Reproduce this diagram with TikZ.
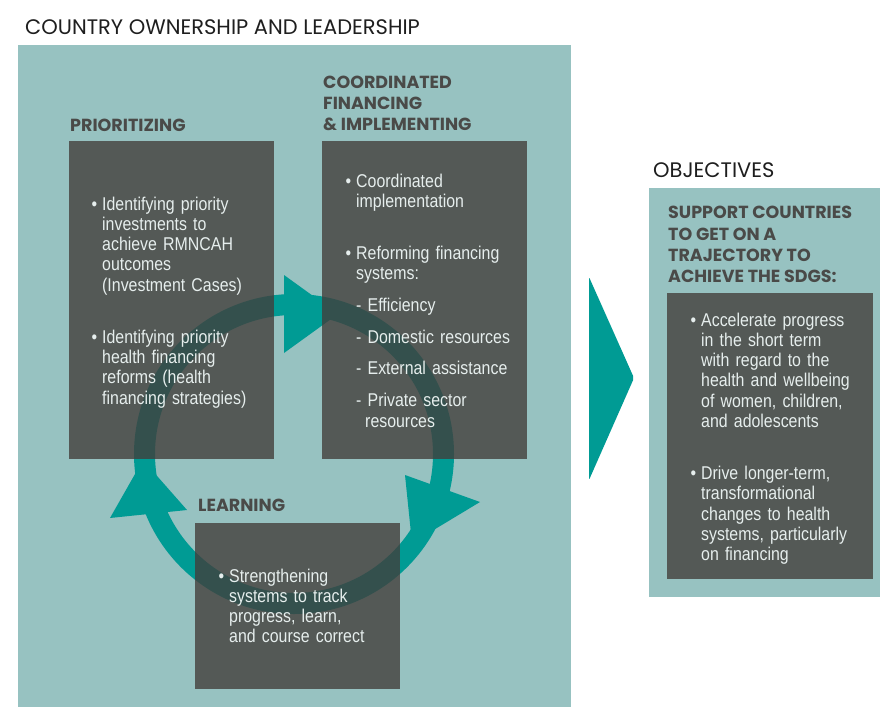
\documentclass[tikz,border=0pt]{standalone}
\usepackage{fontspec}
\setmainfont{Liberation Sans}
\newfontfamily\headfont{Poppins}
\newfontfamily\bodyfont[FakeStretch=0.86]{Liberation Sans}
\usetikzlibrary{positioning}

\definecolor{bgteal}{RGB}{151,194,193}
\definecolor{ringteal}{RGB}{0,155,148}
\definecolor{boxgrey}{RGB}{66,61,58}
\definecolor{headgrey}{RGB}{74,74,72}
\definecolor{bodywhite}{RGB}{230,238,237}
\definecolor{titleblack}{RGB}{30,30,30}

\newcommand{\bul}{\leavevmode\llap{\textbullet\hspace{5pt}}}

\begin{document}
\begin{tikzpicture}[x=1pt, y=-1pt,
	panel/.style={fill=bgteal},
	greybox/.style={rectangle, fill=boxgrey, fill opacity=0.79, anchor=north west, inner sep=0pt},
	heading/.style={font=\headfont\bfseries\fontsize{17.5}{21.3}\selectfont, text=headgrey, align=left, inner sep=0pt},
	caption/.style={font=\headfont\fontsize{21}{24}\selectfont, text=titleblack, inner sep=0pt, anchor=base west},
	bodytext/.style={font=\bodyfont\fontsize{18.5}{20.3}\selectfont, text=bodywhite, text width=175pt, align=left, inner sep=0pt, anchor=base west},
	ring/.style={draw=ringteal, line width=21pt},
	cycletip/.style={fill=ringteal}
]
	\fill[white] (0,0) rectangle (880,707);
	\useasboundingbox (0,0) rectangle (880,707);

	% country panel
	\fill[panel] (18,45) rectangle (571,707);
	\node[caption] (title) at (25,34) {COUNTRY OWNERSHIP AND LEADERSHIP};

	% the cycle
	\draw[ring] (294,454) circle[radius=149.5pt];
	\fill[cycletip] (284,275) -- (338,314) -- (284,353) -- cycle;
	\fill[cycletip] (110,518) -- (143,460) -- (187,510) -- cycle;
	\fill[cycletip] (405,475) -- (480,502) -- (412,543) -- cycle;

	\node[greybox, minimum width=205pt, minimum height=318pt] (prio) at (69,141) {};
	\node[greybox, minimum width=205pt, minimum height=318pt] (coord) at (322,141) {};
	\node[greybox, minimum width=205pt, minimum height=166pt] (learn) at (195,523) {};

	\node[heading, above right=9pt and 1pt of prio.north west] (prioH) {PRIORITIZING};
	\node[heading, above right=10pt and 1pt of coord.north west] (coordH) {COORDINATED\\FINANCING\\\& IMPLEMENTING};
	\node[heading, above right=11pt and 3pt of learn.north west] (learnH) {LEARNING};

	\node[bodytext] (prioT) at ([shift={(33,69)}]prio.north west)
		{\bul Identifying priority\\investments to\\achieve RMNCAH\\outcomes\\(Investment Cases)\\[31.7pt]
		\bul Identifying priority\\health financing\\reforms (health\\financing strategies)};
	\node[bodytext] (coordT) at ([shift={(34,46)}]coord.north west)
		{\bul Coordinated\\implementation\\[31.7pt]
		\bul Reforming financing\\systems:\\[11.7pt]
		- Efficiency\\[11.7pt]
		- Domestic resources\\[11pt]
		- External assistance\\[11.7pt]
		- Private sector\\\hspace*{9pt}resources};
	\node[bodytext] (learnT) at ([shift={(34,59)}]learn.north west)
		{\bul Strengthening\\systems to track\\progress, learn,\\and course correct};

	% objectives
	\fill[cycletip, rounded corners=2pt] (589,277) -- (634,378) -- (589,480) -- cycle;
	\fill[panel] (649,188) rectangle (880,597);
	\node[caption] (objT) at (653,177) {OBJECTIVES};
	\node[greybox, minimum width=206pt, minimum height=286pt] (obj) at (667,293) {};
	\node[heading, above right=10pt and 1pt of obj.north west] (objH) {SUPPORT COUNTRIES\\TO GET ON A\\TRAJECTORY TO\\ACHIEVE THE SDGS:};
	\node[bodytext] (objT) at ([shift={(34,33)}]obj.north west)
		{\bul Accelerate progress\\in the short term\\with regard to the\\health and wellbeing\\of women, children,\\and adolescents\\[31.7pt]
		\bul Drive longer-term,\\transformational\\changes to health\\systems, particularly\\on financing};
\end{tikzpicture}
\end{document}
